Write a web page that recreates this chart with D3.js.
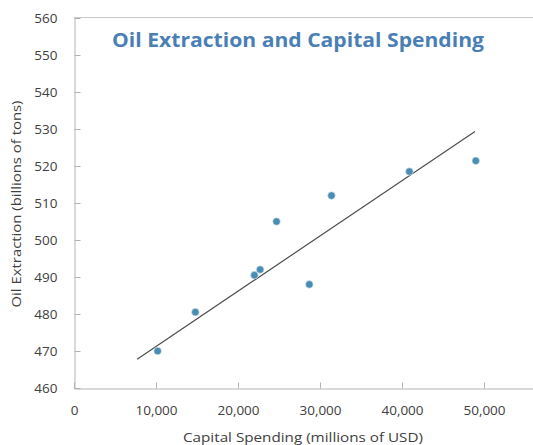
<!DOCTYPE html>
<html><head><meta charset="utf-8">
<script src="https://cdn.jsdelivr.net/npm/d3@7"></script>
<style>body{margin:0;background:#fff}svg{display:block}</style>
</head><body><div id="chart"></div>
<script>
const spending = [10200, 14800, 22000, 22700, 24700, 28700, 31400, 40900, 49000];
const extraction = [470, 480.5, 490.5, 492, 505, 488, 512, 518.5, 521.4];
const trendX = [7700, 48900];
const trendY = [467.8, 529.3];
const xTicks = [0, 10000, 20000, 30000, 40000, 50000];
const yTicks = [460, 470, 480, 490, 500, 510, 520, 530, 540, 550, 560];
const title = "Oil Extraction and Capital Spending";
const xTitle = "Capital Spending  (millions  of USD)";
const yTitle = "Oil Extraction (billions of tons)";

const W = 533, H = 445;
const svg = d3.select("#chart").append("svg").attr("width", W).attr("height", H);
const x = d3.scaleLinear().domain([0, 60000]).range([74, 566]);
const y = d3.scaleLinear().domain([460, 560]).range([388, 18]);
const font = "'Open Sans', 'DejaVu Sans', sans-serif";
const axisColor = "#b3b3b3", textColor = "#404040";

// top border
svg.append("line").attr("x1", 74).attr("x2", W).attr("y1", 17.5).attr("y2", 17.5)
  .attr("stroke", "#c8c8c8").attr("stroke-width", 1);

const fmt = d3.format(",");
const xAxis = svg.append("g").attr("transform", "translate(0,388.5)")
  .call(d3.axisBottom(x).tickValues(xTicks).tickSizeInner(-6).tickSizeOuter(0).tickFormat(d => d === 0 ? "0" : fmt(d)).tickPadding(17));
const yAxis = svg.append("g").attr("transform", "translate(74.5,0)")
  .call(d3.axisLeft(y).tickValues(yTicks).tickSizeInner(-6).tickSizeOuter(0).tickPadding(17));
[xAxis, yAxis].forEach(g => {
  g.select(".domain").attr("stroke", axisColor);
  g.selectAll(".tick line").attr("stroke", axisColor);
  g.selectAll(".tick text").attr("fill", textColor).style("font-family", font).style("font-size", "13.5px");
});
yAxis.selectAll(".tick text").attr("dy", "0.35em");

// trendline
svg.append("line")
  .attr("x1", x(trendX[0])).attr("y1", y(trendY[0]))
  .attr("x2", x(trendX[1])).attr("y2", y(trendY[1]))
  .attr("stroke", "#4d4d4d").attr("stroke-width", 1.2);

// points
svg.append("g").selectAll("circle").data(spending).join("circle")
  .attr("cx", (d) => x(d)).attr("cy", (d, i) => y(extraction[i])).attr("r", 3.8)
  .attr("fill", "#4a8db3").attr("stroke", "#e6f0f6").attr("stroke-width", 0.6);

// title
svg.append("text").attr("x", 298).attr("y", 47).attr("text-anchor", "middle")
  .attr("fill", "#4a7fb5").style("font-family", font).style("font-weight", "bold").style("font-size", "19px")
  .attr("textLength", 372).attr("lengthAdjust", "spacingAndGlyphs").text(title);

// axis titles
svg.append("text").attr("x", 303).attr("y", 442).attr("text-anchor", "middle")
  .attr("fill", textColor).style("font-family", font).style("font-size", "13.5px")
  .attr("textLength", 240).attr("lengthAdjust", "spacingAndGlyphs").text(xTitle);
svg.append("text").attr("transform", "translate(21,204) rotate(-90)").attr("text-anchor", "middle")
  .attr("fill", textColor).style("font-family", font).style("font-size", "13.5px")
  .attr("textLength", 207).attr("lengthAdjust", "spacingAndGlyphs").text(yTitle);
</script></body></html>
